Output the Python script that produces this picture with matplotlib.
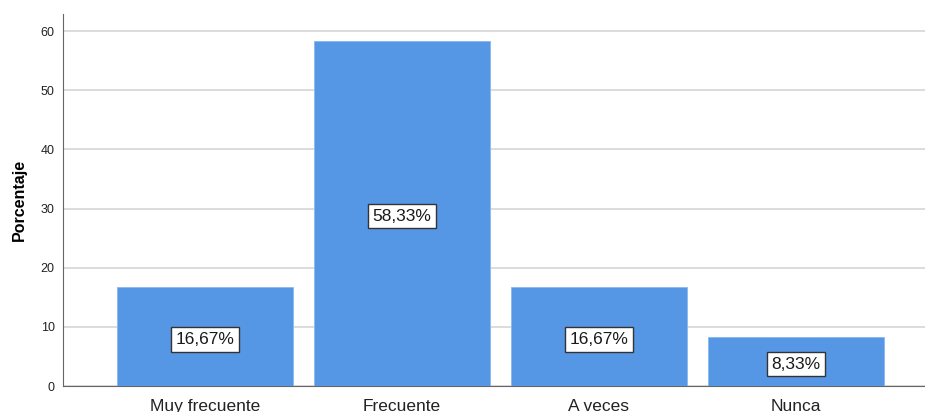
import matplotlib.pyplot as plt

plt.rcParams['font.family'] = ['Liberation Sans', 'DejaVu Sans']

categorias = ['Muy frecuente', 'Frecuente', 'A veces', 'Nunca']
porcentajes = [16.67, 58.33, 16.67, 8.33]
etiquetas = ['16,67%', '58,33%', '16,67%', '8,33%']
yticks = [0, 10, 20, 30, 40, 50, 60]

fig = plt.figure(figsize=(9.25, 4.12), dpi=100)
ax = fig.add_axes([0.0681, 0.0631, 0.9319, 0.903])

x = range(len(categorias))
ax.bar(x, porcentajes, width=0.893, color='#5596e5', edgecolor='#8ab8ef', linewidth=0.6, zorder=3)

for i, v in enumerate(porcentajes):
    ax.annotate(etiquetas[i], (i, v / 2), xytext=(0, -2), textcoords='offset points',
                ha='center', va='center', fontsize=12.5, color='#1a1a1a', zorder=4,
                bbox=dict(boxstyle='square,pad=0.27', facecolor='white', edgecolor='#333333', linewidth=1))

ax.set_xlim(-0.72, 3.655)
ax.set_ylim(0, 62.9)
ax.set_yticks(yticks)
ax.set_xticks(list(x))
ax.set_xticklabels(categorias, fontsize=12.5, color='#222222')
ax.tick_params(axis='y', labelsize=9, length=0, pad=6, labelcolor='#222222')
ax.tick_params(axis='x', length=0, pad=9)
ax.yaxis.grid(True, color='#d6d6d6', linewidth=1.2, zorder=0)
ax.set_axisbelow(True)

for s in ['top', 'right']:
    ax.spines[s].set_visible(False)
ax.spines['left'].set_color('#666666')
ax.spines['bottom'].set_color('#666666')

ax.set_ylabel('Porcentaje', fontsize=11.5, fontweight='bold', labelpad=10)

fig.savefig('out.png', dpi=100)
